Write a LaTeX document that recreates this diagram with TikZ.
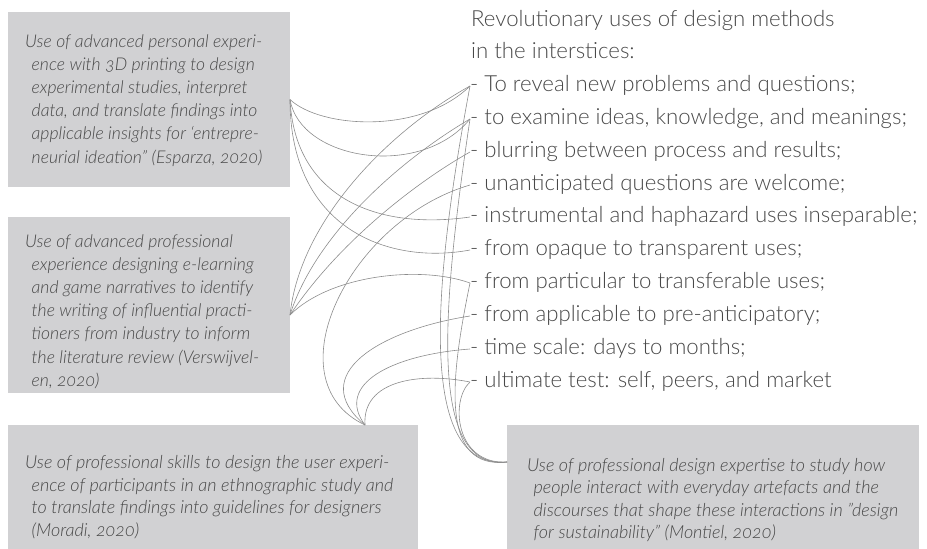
\documentclass[tikz,border=0pt]{standalone}
\usepackage{fontspec}
\setmainfont{Lato}[UprightFont={* Light}, ItalicFont={* Light Italic}, ItalicFeatures={Numbers=OldStyle}]

\definecolor{panelgray}{RGB}{209,209,211}
\definecolor{ink}{RGB}{72,72,72}
\definecolor{wirecol}{RGB}{140,140,140}

\newcommand\blurbfont{\itshape\fontsize{17.6}{23.2}\selectfont}
\newcommand\wideblurbfont{\itshape\fontsize{18}{22.5}\selectfont}
\newcommand\itemfont{\fontsize{22.2}{26}\selectfont}

\begin{document}
\begin{tikzpicture}[x=1pt,y=-1pt,
  panel/.style={fill=panelgray, draw=none, inner sep=0pt, outer sep=0pt},
  blurb/.style={font=\blurbfont, text=ink, align=left, inner sep=0pt, anchor=north west},
  item/.style={font=\itemfont, text=ink, inner sep=0pt, anchor=west, text height=11.2pt, text depth=0pt},
  wire/.style={draw=wirecol, line width=0.6pt}]

\useasboundingbox (0,0) rectangle (927,549);

% case-study panels
\node[panel, minimum width=282pt, minimum height=175pt] (esparza) at (149,99.5) {};
\node[panel, minimum width=282pt, minimum height=176pt] (verswijvelen) at (149,305) {};
\node[panel, minimum width=410pt, minimum height=124pt] (moradi) at (213,487) {};
\node[panel, minimum width=412pt, minimum height=124pt] (montiel) at (713,487) {};

\node[blurb] (esparzaText) at (25,34) {Use of advanced personal experi-\\
\hspace*{6.5pt}ence with 3D printing to design\\
\hspace*{6.5pt}experimental studies, interpret\\
\hspace*{6.5pt}data, and translate findings into\\
\hspace*{6.5pt}applicable insights for ‘entrepre-\\
\hspace*{6.5pt}neurial ideation” (Esparza, 2020)};

\node[blurb] (verswijvelenText) at (25,234) {Use of advanced professional\\
\hspace*{6.5pt}experience designing e-learning\\
\hspace*{6.5pt}and game narratives to identify\\
\hspace*{6.5pt}the writing of influential practi-\\
\hspace*{6.5pt}tioners from industry to inform\\
\hspace*{6.5pt}the literature review (Verswijvel-\\
\hspace*{6.5pt}en, 2020)};

\node[blurb, font=\wideblurbfont] (moradiText) at (25,455.5) {Use of professional skills to design the user experi-\\
\hspace*{6.5pt}ence of participants in an ethnographic study and\\
\hspace*{6.5pt}to translate findings into guidelines for designers\\
\hspace*{6.5pt}(Moradi, 2020)};

\node[blurb, font=\wideblurbfont] (montielText) at (527,458) {Use of professional design expertise to study how\\
\hspace*{6.5pt}people interact with everyday artefacts and the\\
\hspace*{6.5pt}discourses that shape these interactions in "design\\
\hspace*{6.5pt}for sustainability” (Montiel, 2020)};

% attachment points on the panels
\coordinate (pA) at (esparza.east);
\coordinate (pB) at ([yshift=-10pt]verswijvelen.east);
\coordinate (pC) at ([xshift=152pt]moradi.north);
\coordinate (pD) at ([yshift=25pt]montiel.west);

% list of uses
\node[item] (head1) at (471,21) {Revolutionary uses of design methods};
\node[item] (head2) at (471,53) {in the interstices:};
\node[item] (r1) at (470,86) {- To reveal new problems and questions;};
\node[item] (r2) at (470,119) {- to examine ideas, knowledge, and meanings;};
\node[item] (r3) at (470,152) {- blurring between process and results;};
\node[item] (r4) at (470,185) {- unanticipated questions are welcome;};
\node[item] (r5) at (470,217) {- instrumental and haphazard uses inseparable;};
\node[item] (r6) at (470,250) {- from opaque to transparent uses;};
\node[item] (r7) at (470,283) {- from particular to transferable uses;};
\node[item] (r8) at (470,316) {- from applicable to pre-anticipatory;};
\node[item] (r9) at (470,349) {- time scale: days to months;};
\node[item] (r10) at (470,382) {- ultimate test: self, peers, and market};

% Esparza
\draw[wire] (pA) .. controls (320,128) and (420,135) .. (r1.west);
\draw[wire] (pA) .. controls (300,160) and (420,180) .. (r2.west);
\draw[wire] (pA) .. controls (295,200) and (380,230) .. (r5.west);
\draw[wire] (pA) .. controls (290,230) and (390,265) .. (r6.west);

% Verswijvelen
\draw[wire] (pB) .. controls (300,220) and (390,130) .. (r1.west);
\draw[wire] (pB) .. controls (315,235) and (400,160) .. (r2.west);
\draw[wire] (pB) .. controls (340,240) and (420,180) .. (r3.west);
\draw[wire] (pB) .. controls (330,275) and (420,265) .. (r7.west);

% Moradi
\draw[wire] (pC) .. controls (270,380) and (350,220) .. (r4.west);
\draw[wire] (pC) .. controls (305,375) and (380,330) .. (r8.west);
\draw[wire] (pC) .. controls (335,385) and (390,355) .. (r9.west);
\draw[wire] (pC) .. controls (362,380) and (420,372) .. (r10.west);

% Montiel
\draw[wire] (r1.west) .. controls (430,300) and (420,470) .. (pD);
\draw[wire] (r2.west) .. controls (440,320) and (430,470) .. (pD);
\draw[wire] (r7.west) .. controls (450,380) and (440,470) .. (pD);
\draw[wire] (r10.west) .. controls (450,400) and (455,465) .. (pD);

\end{tikzpicture}
\end{document}
